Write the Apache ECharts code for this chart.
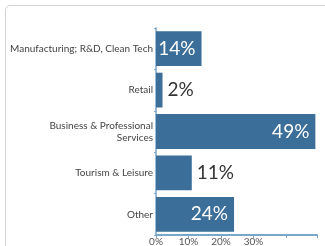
<!DOCTYPE html>
<html><head><meta charset="utf-8">
<script src="https://cdn.jsdelivr.net/npm/echarts@6/dist/echarts.min.js"></script>
<style>
html,body{margin:0;padding:0;background:#fff;}
#card{position:absolute;left:5px;top:5px;width:330px;height:260px;border:1.5px solid #cfd3d6;border-radius:5px;box-sizing:border-box;}
#chart{position:absolute;left:0;top:0;width:325px;height:246px;}
</style></head>
<body>
<div id="card"></div>
<div id="chart"></div>
<script>
var categories = ['Manufacturing; R&D, Clean Tech', 'Retail', 'Business & Professional\nServices', 'Tourism & Leisure', 'Other'];
var values = [14, 2, 49, 11, 24];
var tickLabels = ['0%', '10%', '20%', '30%'];

var chart = echarts.init(document.getElementById('chart'));
var font = 'Lato,"Noto Sans",sans-serif';
chart.setOption({
  animation: false,
  grid: {left: 156, right: 8, top: 28, bottom: 11, containLabel: false, outerBoundsMode: 'none'},
  xAxis: {
    type: 'value', min: 0, max: 49.5, interval: 10,
    splitLine: {show: false},
    axisLine: {show: true, lineStyle: {color: '#7aa6c8', width: 2}},
    axisTick: {show: true, length: 3, lineStyle: {color: '#7aa6c8'}},
    axisLabel: {
      color: '#555', fontSize: 10, fontFamily: font, margin: 2,
      formatter: function (v) { var i = Math.round(v / 10); return i < tickLabels.length ? tickLabels[i] : ''; }
    }
  },
  yAxis: {
    type: 'category', data: categories, inverse: true,
    axisLine: {show: true, lineStyle: {color: '#7aa6c8', width: 1.5}},
    axisTick: {show: true, length: 2, lineStyle: {color: '#7aa6c8'}},
    axisLabel: {color: '#444', fontSize: 10, fontFamily: font, margin: 3, lineHeight: 12}
  },
  series: [{
    type: 'bar', data: values.map(function (v) {
      var inside = v >= 14;
      return {value: v, label: {
        position: inside ? 'insideRight' : 'right',
        color: inside ? '#fff' : '#333',
        distance: inside ? 6 : 5
      }};
    }),
    barCategoryGap: '16%',
    itemStyle: {color: '#3b6e98'},
    label: {show: true, fontSize: 19, fontFamily: font, formatter: '{c}%'}
  }]
});
</script>
</body></html>
